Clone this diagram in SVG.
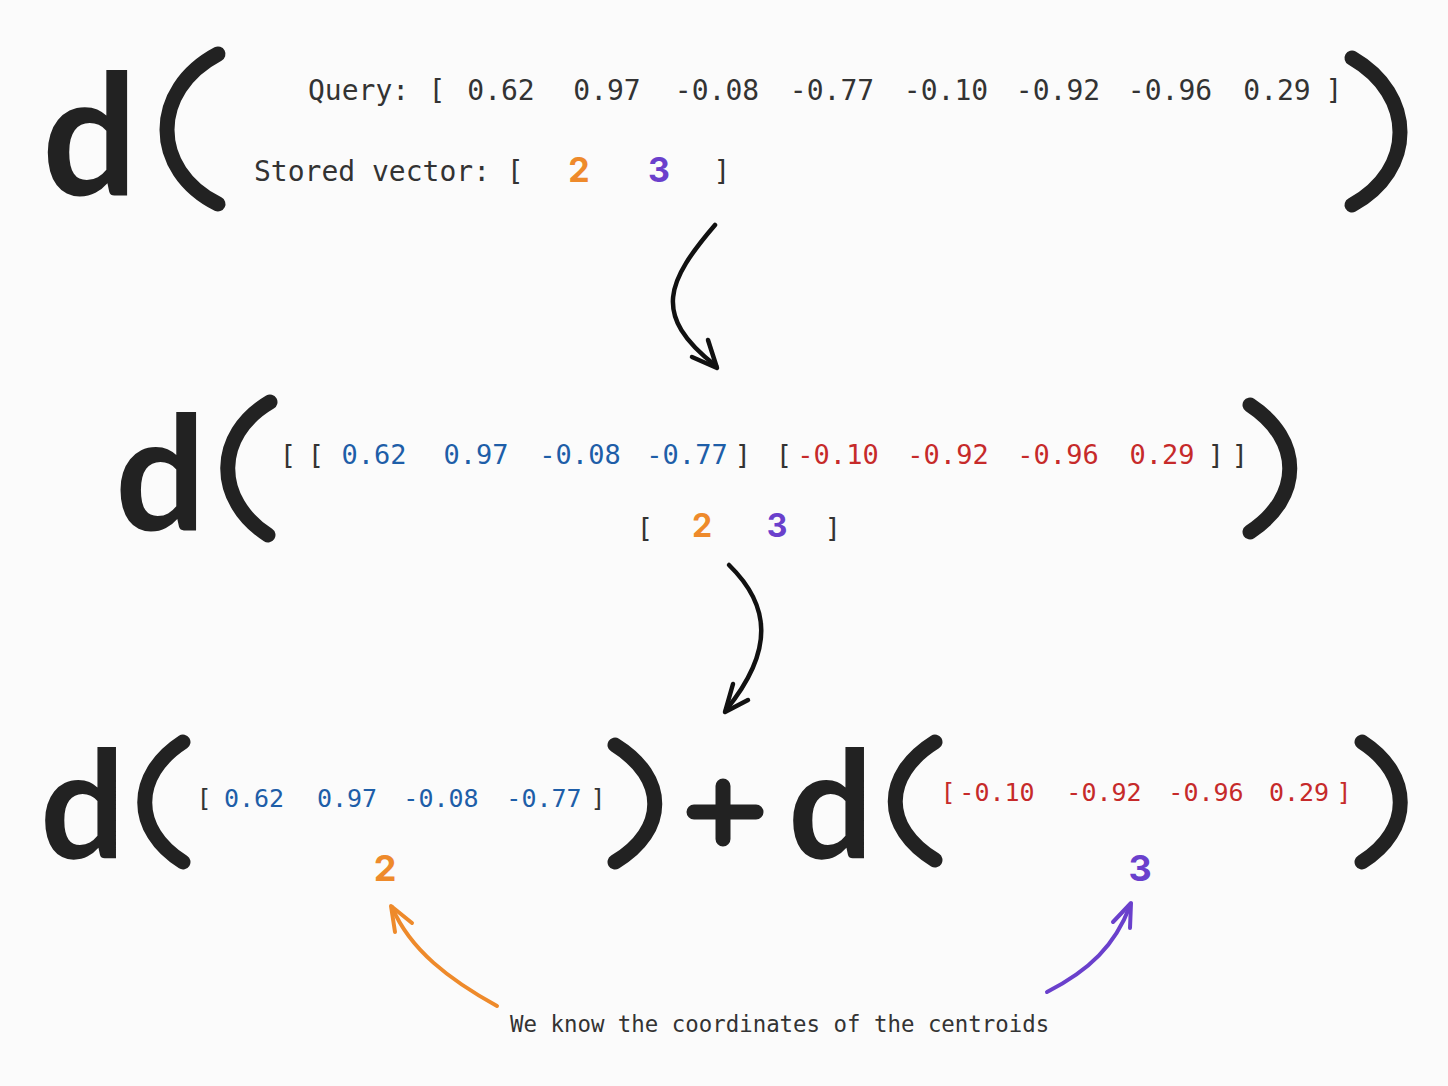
<svg xmlns="http://www.w3.org/2000/svg" width="1448" height="1086" viewBox="0 0 1448 1086">
<style>
.bg{fill:#fbfbfb}
.big{font-family:Lato,"Noto Sans",sans-serif;font-weight:700;fill:#222}
.paren{fill:none;stroke:#222;stroke-width:15;stroke-linecap:round}
.mono{font-family:"DejaVu Sans Mono","Liberation Mono",monospace;fill:#333}
.blue{fill:#1e5ea8}
.red{fill:#c62a2a}
.dk{fill:#333}
.num{font-family:Inter,"Noto Sans",sans-serif;font-weight:700}
.or{fill:#ee8a2b}
.pu{fill:#6a40cc}
.arr{fill:none;stroke:#111;stroke-width:4.5;stroke-linecap:round;stroke-linejoin:round}
.oarr{fill:none;stroke:#ee8a2b;stroke-width:4;stroke-linecap:round;stroke-linejoin:round}
.parr{fill:none;stroke:#6a40cc;stroke-width:4;stroke-linecap:round;stroke-linejoin:round}
</style>
<rect class="bg" x="0" y="0" width="1448" height="1086"/>

<g id="row1">
  <text class="big" x="42" y="195" font-size="168">d</text>
  <path class="paren" d="M218,54 C150,90 150,170 218,204"/>
  <path class="paren" d="M1352,58 C1416,95 1416,170 1352,205"/>
  <g class="mono" font-size="28" text-anchor="middle">
    <text x="308" y="100" text-anchor="start">Query:</text>
    <text x="437" y="100">[</text>
    <text x="501" y="100">0.62</text>
    <text x="607" y="100">0.97</text>
    <text x="717" y="100">-0.08</text>
    <text x="832" y="100">-0.77</text>
    <text x="946" y="100">-0.10</text>
    <text x="1058" y="100">-0.92</text>
    <text x="1170" y="100">-0.96</text>
    <text x="1277" y="100">0.29</text>
    <text x="1334" y="100">]</text>
    <text x="254" y="181" text-anchor="start">Stored vector: [</text>
    <text x="722" y="181">]</text>
  </g>
  <g class="num" font-size="34" text-anchor="middle">
    <text class="or" x="579" y="182">2</text>
    <text class="pu" x="659" y="182">3</text>
  </g>
</g>

<g id="row2">
  <text class="big" x="115" y="530" font-size="160">d</text>
  <path class="paren" d="M270,402 C214,435 214,500 268,535"/>
  <path class="paren" d="M1250,405 C1303,440 1303,497 1250,532"/>
  <g class="mono" font-size="27" text-anchor="middle">
    <text class="dk" x="288" y="464">[</text>
    <text class="dk" x="316" y="464">[</text>
    <text class="blue" x="374" y="464">0.62</text>
    <text class="blue" x="476" y="464">0.97</text>
    <text class="blue" x="580" y="464">-0.08</text>
    <text class="blue" x="687" y="464">-0.77</text>
    <text class="dk" x="743" y="464">]</text>
    <text class="dk" x="784" y="464">[</text>
    <text class="red" x="838" y="464">-0.10</text>
    <text class="red" x="948" y="464">-0.92</text>
    <text class="red" x="1058" y="464">-0.96</text>
    <text class="red" x="1162" y="464">0.29</text>
    <text class="dk" x="1216" y="464">]</text>
    <text class="dk" x="1240" y="464">]</text>
    <text class="dk" x="645" y="537">[</text>
    <text class="dk" x="833" y="537">]</text>
  </g>
  <g class="num" font-size="32" text-anchor="middle">
    <text class="or" x="702" y="537">2</text>
    <text class="pu" x="777" y="537">3</text>
  </g>
</g>

<g id="row3">
  <text class="big" x="40" y="858" font-size="150">d</text>
  <path class="paren" d="M183,742 C132,775 132,830 183,862"/>
  <g class="mono" font-size="25" text-anchor="middle">
    <text class="dk" x="204" y="807">[</text>
    <text class="blue" x="254" y="807">0.62</text>
    <text class="blue" x="347" y="807">0.97</text>
    <text class="blue" x="441" y="807">-0.08</text>
    <text class="blue" x="544" y="807">-0.77</text>
    <text class="dk" x="598" y="807">]</text>
  </g>
  <path class="paren" d="M615,745 C668,778 668,830 615,862"/>
  <path class="paren" d="M723,786 V839 M694,812 H756"/>
  <text class="big" x="788" y="858" font-size="150">d</text>
  <path class="paren" d="M935,742 C882,775 882,828 935,860"/>
  <g class="mono" font-size="25" text-anchor="middle">
    <text class="red" x="948" y="801">[</text>
    <text class="red" x="997" y="801">-0.10</text>
    <text class="red" x="1104" y="801">-0.92</text>
    <text class="red" x="1206" y="801">-0.96</text>
    <text class="red" x="1299" y="801">0.29</text>
    <text class="red" x="1344" y="801">]</text>
  </g>
  <path class="paren" d="M1362,742 C1413,775 1413,830 1362,862"/>
  <g class="num" font-size="36" text-anchor="middle">
    <text class="or" x="385" y="881">2</text>
    <text class="pu" x="1140" y="881">3</text>
  </g>
</g>

<g id="caption">
  <text class="mono" font-size="22.4" x="510" y="1032">We know the coordinates of the centroids</text>
</g>

<g id="connectors">
  <path class="arr" d="M715,225 C668,280 650,315 716,366"/>
  <path class="arr" d="M708,340 L717,368 L692,357"/>
  <path class="arr" d="M729,565 C770,605 775,650 726,710"/>
  <path class="arr" d="M733,684 L725,712 L748,700"/>
  <path class="oarr" d="M497,1006 C450,980 410,950 392,907"/>
  <path class="oarr" d="M395,932 L391,906 L412,923"/>
  <path class="parr" d="M1047,992 C1090,970 1115,945 1130,906"/>
  <path class="parr" d="M1113,922 L1131,903 L1130,928"/>
</g>
</svg>
